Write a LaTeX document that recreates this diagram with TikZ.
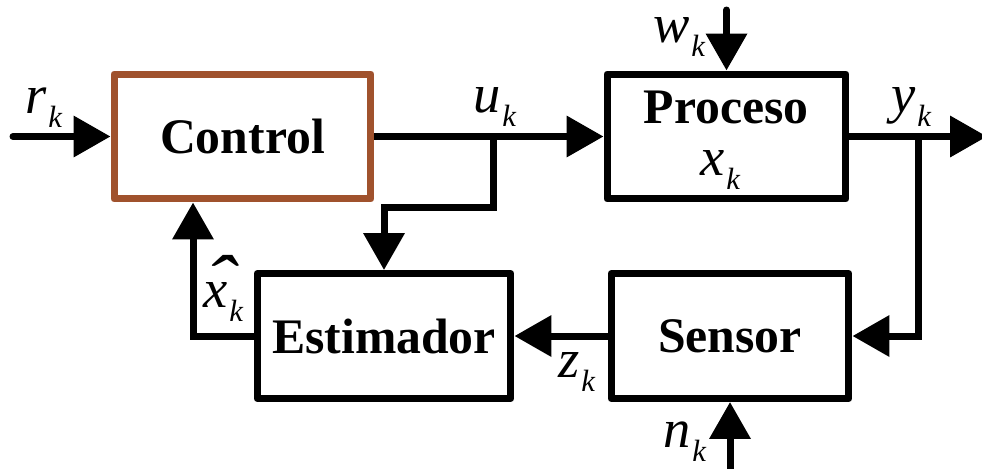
\documentclass[tikz,border=0pt]{standalone}
\usepackage{fontspec}
\setmainfont{Liberation Serif}
\usetikzlibrary{arrows.meta}
\definecolor{ctrlbrown}{RGB}{160,82,45}
% italic variable with a lowered italic subscript
\newcommand\lbl[2]{\textit{#1}\kern1pt\raisebox{-8.5pt}{\fontsize{17.5}{17.5}\selectfont\textit{#2}}}
% same, with a circumflex hat over the variable
\newcommand\hatlbl[2]{\rlap{\kern0.02em\raisebox{0.01em}{\scalebox{1.7}[1.35]{\textit{\char"02C6}}}}\lbl{#1}{#2}}
\begin{document}
\begin{tikzpicture}[x=0.02cm,y=-0.02cm,
  block/.style={draw=black,line width=0.14cm,line join=round,minimum height=2.5cm,
    font=\fontsize{28.3}{34}\selectfont\bfseries,inner sep=0pt},
  sig/.style={line width=0.14cm,-{Triangle[length=0.74cm,width=0.8cm]}},
  var/.style={anchor=base west,inner sep=0pt,font=\fontsize{31}{36}\selectfont}]
\useasboundingbox (0,0) rectangle (982,468);

% blocks
\node[block,draw=ctrlbrown,minimum width=5.14cm] (ctrl) at (242.5,136.5) {Control};
\node[block,minimum width=4.78cm] (proc) at (726.5,136.5) {};
\node[block,minimum width=5.08cm] (est) at (384,336) {Estimador};
\node[block,minimum width=4.76cm] (sens) at (730,336) {Sensor};

% text inside the process block
\node[anchor=base,inner sep=0pt,font=\fontsize{28.3}{34}\selectfont\bfseries] (proctxt) at (726,123) {Proceso};
\node[var] (xk) at (700,175) {\lbl{x}{k}};

% free ends and bends of the signal lines
\coordinate (rin) at (13,136.5);
\coordinate (ubr) at (493,136.5);
\coordinate (ubend) at (384,207);
\coordinate (fb) at (193,336);
\coordinate (win) at (726.5,10);
\coordinate (yout) at (987,136.5);
\coordinate (ybr) at (918,136.5);
\coordinate (nin) at (730,475);

% signals
\draw[sig,line cap=round] (rin) -- (ctrl.west);
\draw[sig] (ctrl.east) -- (proc.west);
\draw[sig] (ubr) |- (ubend) -- (est.north);
\draw[sig] (est.west) -- (fb) -- (ctrl.south -| fb);
\draw[sig,line cap=round] (win) -- (proc.north);
\draw[sig] (proc.east) -- (yout);
\draw[sig] (ybr) |- (sens.east);
\draw[sig] (sens.west) -- (est.east);
\draw[sig] (nin) -- (sens.south);

% signal labels
\node[var] (rk) at (25,113) {\lbl{r}{k}};
\node[var] (uk) at (473,112) {\lbl{u}{k}};
\node[var] (wk) at (653,42) {\lbl{w}{k}};
\node[var] (yk) at (891,112) {\lbl{y}{k}};
\node[var] (xhk) at (203,307) {\hatlbl{x}{k}};
\node[var] (zk) at (558,377) {\lbl{z}{k}};
\node[var] (nk) at (663,447) {\lbl{n}{k}};
\end{tikzpicture}
\end{document}
